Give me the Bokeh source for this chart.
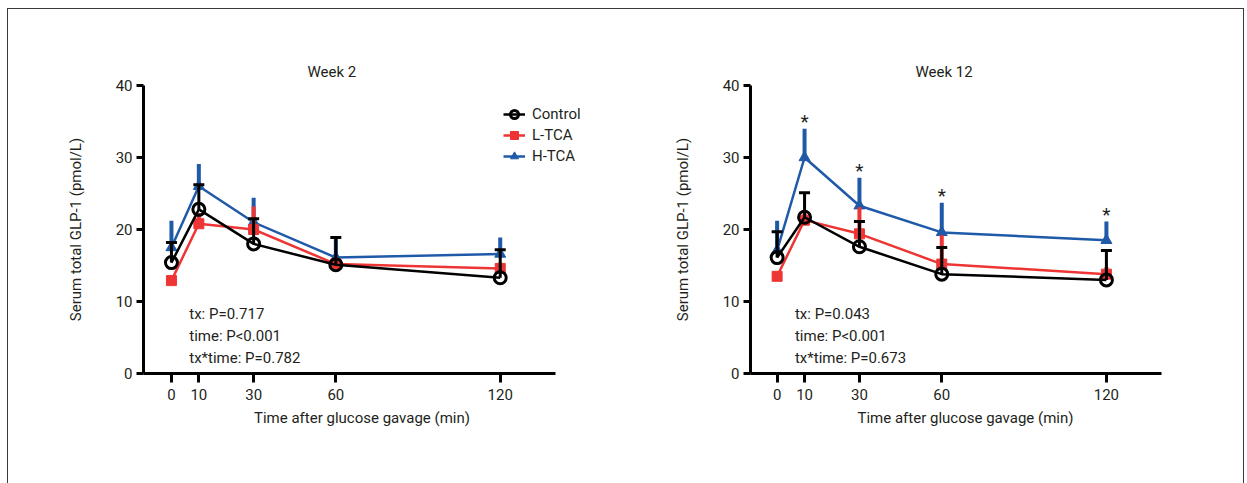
from bokeh.plotting import figure
from bokeh.layouts import row
from bokeh.models import FixedTicker, Range1d, Legend, LegendItem
from bokeh.embed import file_html
from bokeh.resources import INLINE
from bokeh.core.properties import value

# ---------------- data ----------------
times = [0, 10, 30, 60, 120]
x_ticks = [0, 10, 30, 60, 120]
y_ticks = [0, 10, 20, 30, 40]

w2_control_mean = [15.4, 22.8, 18.0, 15.1, 13.3]
w2_control_sem = [2.8, 3.4, 3.5, 3.8, 3.9]
w2_ltca_mean = [12.9, 20.8, 20.0, 15.2, 14.6]
w2_ltca_sem = [0.6, 1.5, 3.2, 1.0, 0.8]
w2_htca_mean = [17.5, 26.0, 21.0, 16.1, 16.6]
w2_htca_sem = [3.7, 3.1, 3.4, 3.0, 2.3]

w12_control_mean = [16.1, 21.7, 17.6, 13.8, 13.0]
w12_control_sem = [3.6, 3.4, 3.5, 3.7, 4.1]
w12_ltca_mean = [13.5, 21.3, 19.4, 15.2, 13.8]
w12_ltca_sem = [0.6, 1.0, 3.7, 4.0, 1.0]
w12_htca_mean = [17.1, 30.0, 23.3, 19.6, 18.5]
w12_htca_sem = [4.1, 4.0, 3.9, 4.1, 2.6]
w12_htca_sig = [False, True, True, True, True]

w2_stats = ["tx: P=0.717", "time: P<0.001", "tx*time: P=0.782"]
w12_stats = ["tx: P=0.043", "time: P<0.001", "tx*time: P=0.673"]

series_names = ["Control", "L-TCA", "H-TCA"]

# ---------------- style ----------------
FONT = "Roboto"
TXT = "#231f20"
BLACK = "#000000"
RED = "#ee3535"
BLUE = "#1f5aa8"
FRAME = "#3a3a3a"


def make_panel(title, ctrl_m, ctrl_s, l_m, l_s, h_m, h_s, stats, xr, width, left_border,
               right_border, title_offset, sig=None, legend=False):
    p = figure(width=width, height=483, output_backend="svg", toolbar_location=None,
               x_range=Range1d(*xr), y_range=Range1d(0, 40),
               min_border_left=left_border, min_border_right=right_border,
               min_border_top=85, min_border_bottom=110)
    p.outline_line_color = None
    p.grid.visible = False
    p.background_fill_alpha = 0
    p.border_fill_alpha = 0

    # title
    p.title.text = title
    p.title.align = "left"
    p.title.offset = title_offset
    p.title.text_font = FONT
    p.title.text_font_size = "15px"
    p.title.text_font_style = "normal"
    p.title.text_color = TXT
    p.title.vertical_align = "bottom"
    p.title.standoff = 10

    # axes
    p.xaxis.ticker = FixedTicker(ticks=x_ticks)
    p.yaxis.ticker = FixedTicker(ticks=y_ticks)
    p.yaxis.bounds = (0, 40)
    p.xaxis.bounds = (xr[0], 140)
    for ax in (p.xaxis, p.yaxis):
        ax.axis_line_width = 3
        ax.axis_line_color = BLACK
        ax.major_tick_line_width = 3
        ax.major_tick_line_color = BLACK
        ax.major_tick_in = 0
        ax.minor_tick_line_color = None
        ax.major_label_text_font = FONT
        ax.major_label_text_font_size = "15px"
        ax.major_label_text_color = TXT
        ax.axis_label_text_font = FONT
        ax.axis_label_text_font_size = "15px"
        ax.axis_label_text_font_style = "normal"
        ax.axis_label_text_color = TXT
    p.xaxis.major_tick_out = 9
    p.yaxis.major_tick_out = 7
    p.xaxis.major_label_standoff = 6
    p.yaxis.major_label_standoff = 4
    p.xaxis.axis_label = "Time after glucose gavage (min)"
    p.yaxis.axis_label = "Serum total GLP-1 (pmol/L)"
    p.xaxis.axis_label_standoff = 6
    p.yaxis.axis_label_standoff = 28

    # H-TCA (blue)
    h_up = [m + s for m, s in zip(h_m, h_s)]
    p.segment(x0=times, y0=h_m, x1=times, y1=h_up, line_color=BLUE, line_width=4)
    hl = p.line(times, h_m, line_color=BLUE, line_width=2.5)
    hs = p.scatter(times, h_m, marker="triangle", size=11, fill_color=BLUE, line_color=BLUE)

    # L-TCA (red)
    l_up = [m + s for m, s in zip(l_m, l_s)]
    p.segment(x0=times, y0=l_m, x1=times, y1=l_up, line_color=RED, line_width=4)
    ll = p.line(times, l_m, line_color=RED, line_width=2.5)
    ls = p.scatter(times, l_m, marker="square", size=10, fill_color=RED, line_color=RED)

    # Control (black)
    c_up = [m + s for m, s in zip(ctrl_m, ctrl_s)]
    p.segment(x0=times, y0=ctrl_m, x1=times, y1=c_up, line_color=BLACK, line_width=3)
    p.scatter(times, c_up, marker="dash", size=11, line_color=BLACK, line_width=3)
    cl = p.line(times, ctrl_m, line_color=BLACK, line_width=2.5)
    cs = p.scatter(times, ctrl_m, marker="circle", size=12, fill_color=None,
                   line_color=BLACK, line_width=3)

    # significance stars
    if sig is not None:
        sx = [t for t, s in zip(times, sig) if s]
        sy = [u for u, s in zip(h_up, sig) if s]
        p.text(x=sx, y=sy, text=["*"] * len(sx), text_align="center", text_baseline="bottom",
               y_offset=4, text_font=value(FONT), text_font_size="19px", text_color=TXT)

    # stats
    p.text(x=[6.5] * 3, y=[8.2, 5.15, 2.1], text=stats, text_align="left",
           text_baseline="middle", text_font=value(FONT), text_font_size="15px",
           text_color=TXT)

    if legend:
        lg = Legend(items=[
            LegendItem(label=series_names[0], renderers=[cl, cs]),
            LegendItem(label=series_names[1], renderers=[ll, ls]),
            LegendItem(label=series_names[2], renderers=[hl, hs]),
        ], location=(360, 207))
        lg.border_line_color = None
        lg.background_fill_alpha = 0
        lg.padding = 0
        lg.margin = 0
        lg.spacing = 1
        lg.glyph_width = 22
        lg.glyph_height = 20
        lg.label_height = 20
        lg.label_standoff = 7
        lg.label_text_font = FONT
        lg.label_text_font_size = "15px"
        lg.label_text_color = TXT
        p.add_layout(lg)
    return p


p1 = make_panel("Week 2", w2_control_mean, w2_control_sem, w2_ltca_mean, w2_ltca_sem,
                w2_htca_mean, w2_htca_sem, w2_stats, (-10.2, 149.3), 612, 143, 32,
                title_offset=164, legend=True)
p2 = make_panel("Week 12", w12_control_mean, w12_control_sem, w12_ltca_mean, w12_ltca_sem,
                w12_htca_mean, w12_htca_sem, w12_stats, (-9.7, 147), 635, 138, 67,
                title_offset=165, sig=w12_htca_sig)

g = "linear-gradient(%s,%s)" % (FRAME, FRAME)
frame_bg = ", ".join([
    g + " 7px 8px / 1237px 1px no-repeat",
    g + " 7px 8px / 1px 480px no-repeat",
    g + " 1243px 8px / 1px 480px no-repeat",
    "white",
])
layout = row(p1, p2, spacing=0, styles={"background": frame_bg})
open("out.html", "w").write(file_html(layout, INLINE))
